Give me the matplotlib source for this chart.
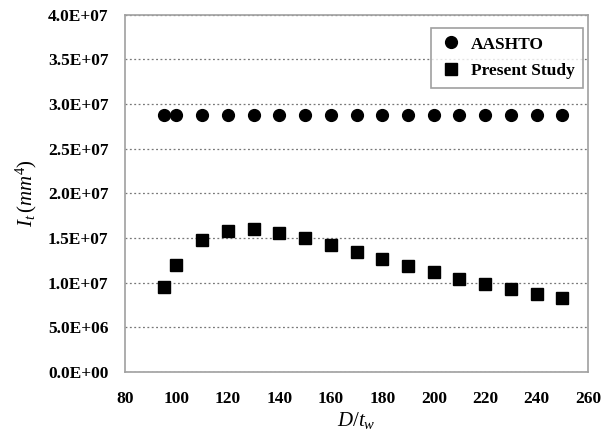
import matplotlib
matplotlib.use("Agg")
import matplotlib.pyplot as plt
from matplotlib.ticker import FuncFormatter

# ── Data ──────────────────────────────────────────────────────────────────────
d_tw = [95, 100, 110, 120, 130, 140, 150, 160, 170, 180, 190, 200, 210, 220, 230, 240, 250]
aashto = [2.87e7] * 17
present = [0.95e7, 1.20e7, 1.475e7, 1.58e7, 1.595e7, 1.55e7, 1.495e7, 1.42e7, 1.34e7,
           1.26e7, 1.187e7, 1.113e7, 1.042e7, 0.985e7, 0.926e7, 0.873e7, 0.822e7]

x_ticks = [80, 100, 120, 140, 160, 180, 200, 220, 240, 260]
y_ticks = [0, 5e6, 1e7, 1.5e7, 2e7, 2.5e7, 3e7, 3.5e7, 4e7]

plt.rcParams["font.family"] = ["Liberation Serif", "DejaVu Serif"]
plt.rcParams["mathtext.fontset"] = "custom"
plt.rcParams["mathtext.it"] = "Liberation Serif:italic"
plt.rcParams["mathtext.rm"] = "Liberation Serif"

fig = plt.figure(figsize=(6.02, 4.33), dpi=100)
ax = fig.add_axes([0.2076, 0.141, 0.7694, 0.8255])

ax.plot(d_tw, aashto, "o", color="black", markersize=8.5, label="AASHTO", linestyle="none")
ax.plot(d_tw, present, "s", color="black", markersize=8.5, label="Present Study", linestyle="none")

ax.set_xlim(80, 260)
ax.set_ylim(0, 4e7)
ax.set_xticks(x_ticks)
ax.set_yticks(y_ticks)

def sci(v, pos):
    if v == 0:
        return "0.0E+00"
    return f"{v:.1E}"
ax.yaxis.set_major_formatter(FuncFormatter(sci))

for lab in ax.get_xticklabels() + ax.get_yticklabels():
    lab.set_fontweight("bold")
    lab.set_fontsize(12.5)

ax.tick_params(axis="both", length=0, pad=12, colors="black")
ax.tick_params(axis="x", pad=14)
for sp in ax.spines.values():
    sp.set_edgecolor("#a0a0a0")
    sp.set_linewidth(1.2)

ax.yaxis.grid(True, linestyle=(0, (1.5, 2)), color="#777777", linewidth=0.9)
ax.set_axisbelow(True)

ax.set_xlabel(r"$D/t_w$", fontsize=15, labelpad=2)
ax.set_ylabel(r"$I_t\,(mm^4)$", fontsize=15, labelpad=6)

leg = ax.legend(loc="upper right", bbox_to_anchor=(0.989, 0.963), borderaxespad=0,
                frameon=True, fancybox=False,
                prop={"weight": "bold", "size": 12.5}, handletextpad=0.5,
                borderpad=0.5, labelspacing=0.6, handlelength=1.3)
leg.get_frame().set_edgecolor("#888888")
leg.get_frame().set_linewidth(1.2)

fig.savefig("out.png", dpi=100)
